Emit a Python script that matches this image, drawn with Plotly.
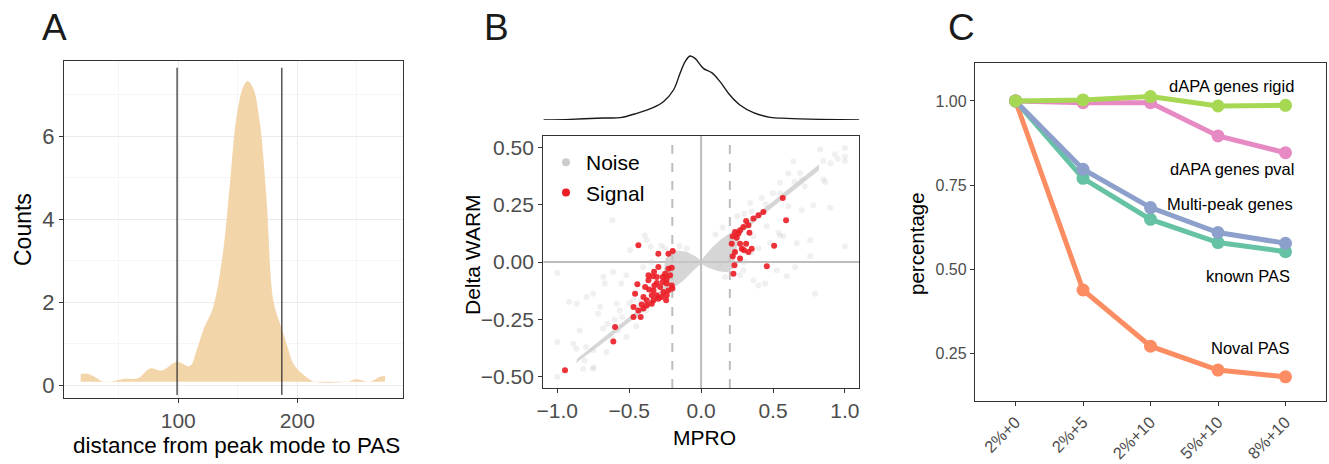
import plotly.graph_objects as go

W, H = 1329, 464
FONT = "Liberation Sans, Arial, Helvetica, sans-serif"

# ---------------- Panel A data ----------------
dist_x = [18, 23, 28.6, 37, 42.6, 53.8, 66.4, 76.2, 86, 98.6, 109.8, 115.4, 121, 129.4,
          137.8, 143.4, 149, 154.6, 158.3, 163, 168.6, 174.2, 179.8, 185.4, 191, 196.6,
          202.2, 209.2, 214.8, 241.5, 249.9, 261, 269.5, 273.7]
dist_counts = [0.27, 0.28, 0.22, 0.08, 0.08, 0.15, 0.17, 0.40, 0.35, 0.56, 0.46, 0.84, 1.33,
               1.89, 3.25, 4.86, 6.47, 7.19, 7.33, 7.15, 6.31, 4.46, 2.05, 1.49, 1.0, 0.52,
               0.32, 0.16, 0.08, 0.08, 0.14, 0.08, 0.20, 0.22]
dist_base = 0.08
cutoffs = [99, 187]

# ---------------- Panel B data ----------------
marg_x = [-1.096, -0.911, -0.68, -0.563, -0.447, -0.33, -0.262, -0.192, -0.146, -0.111,
          -0.077, -0.042, 0.016, 0.074, 0.132, 0.2, 0.27, 0.364, 0.48, 0.596, 0.83, 1.1]
marg_density = [0.0, 0.02, 0.06, 0.07, 0.20, 0.38, 0.55, 0.90, 1.40, 1.75, 1.92, 1.85, 1.55,
                1.42, 1.15, 0.75, 0.45, 0.22, 0.08, 0.05, 0.02, 0.0]

core_x = [0.82, 0.60, 0.40, 0.28, 0.20, 0.14, 0.08, 0.03, 0.0, -0.04, -0.10, -0.17, -0.22,
          -0.25, -0.26, -0.28, -0.32, -0.50, -0.70, -0.86, -0.87, -0.70, -0.50, -0.30, -0.20,
          -0.12, -0.05, 0.0, 0.05, 0.12, 0.18, 0.22, 0.24, 0.26, 0.30, 0.40, 0.60, 0.82, 0.82]
core_y = [0.425, 0.315, 0.215, 0.155, 0.125, 0.10, 0.065, 0.03, 0.008, 0.025, 0.045, 0.05,
          0.04, 0.01, -0.05, -0.12, -0.15, -0.24, -0.34, -0.42, -0.44, -0.362, -0.262, -0.165,
          -0.12, -0.08, -0.035, -0.008, -0.025, -0.04, -0.045, -0.03, 0.03, 0.11, 0.135, 0.19,
          0.29, 0.40, 0.425]

noise_x = [-0.617, -0.392, -0.276, -0.35, 0.828, 1.0, 1.0, 1.0, 0.642, 0.688, 0.851, 0.549,
           0.607, 0.897, 0.457, 0.538, 0.665, 1.0, 0.758, 0.341, 0.422, 0.364, 0.48, 0.572,
           -1.0, -0.612, -0.519, -0.67, -0.554, -0.918, -0.751, -0.844, -1.0, -0.681, -0.867,
           -0.809, -1.0, -0.82, -0.751, -0.659, -0.519, -0.565, -0.473, -0.716, -0.403, -0.346,
           0.132, 0.294, 0.364, 0.399, 0.445, 0.526, 0.596, 0.654, 0.793, 0.271, 0.167,
           -0.494, -0.378, 0.758, 0.862, 0.607, 0.781, 0.7, 0.549, -0.679, -0.795, -0.864,
           -0.702, -0.586, -0.749, -0.888, -0.749,
           -0.45, -0.42, -0.38, -0.33, -0.30, -0.28, -0.25, -0.15, -0.10, 0.10, 0.15, 0.25,
           0.30, 0.35, 0.45, 0.50, 0.55, 0.65, 0.70, 0.72, 0.30, 0.35, 0.40, -0.60, -0.62,
           -0.55, -0.50, -0.45, -0.65, -0.80, -0.58, 0.93, 0.95, 0.90, 0.85]
noise_y = [0.182, 0.115, 0.071, 0.068, 0.49, 0.497, 0.46, 0.44, 0.439, 0.388, 0.359, 0.345,
           0.243, 0.236, 0.156, 0.127, 0.083, 0.068, 0.025, 0.257, 0.279, 0.112, 0.083, 0.112,
           -0.048, -0.044, -0.058, -0.094, -0.094, -0.174, -0.138, -0.298, -0.349, -0.29, -0.378,
           -0.429, -0.5, -0.465, -0.465, -0.392, -0.327, -0.211, -0.167, -0.225, -0.022, 0.0,
           -0.022, -0.036, -0.08, -0.102, -0.094, -0.036, -0.062, -0.022, -0.138, -0.058, -0.065,
           0.051, 0.095, 0.095, 0.349, 0.386, 0.247, 0.225, 0.116, -0.065, -0.153, -0.181,
           -0.196, -0.181, -0.385, -0.356, -0.46,
           -0.20, -0.17, -0.21, -0.12, -0.09, -0.05, 0.06, 0.07, 0.06, 0.12, 0.15, 0.20,
           0.21, 0.22, 0.25, 0.30, 0.30, 0.35, 0.36, 0.33, 0.0, 0.04, 0.06, -0.25, -0.33,
           -0.24, -0.18, -0.28, -0.27, -0.37, -0.30, 0.47, 0.45, 0.43, 0.44]

signal_x = [-0.436, -0.297, -0.227, -0.197, -0.297, -0.327, -0.336, -0.308, -0.227, -0.204,
            -0.25, -0.216, -0.443, -0.366, -0.267, -0.308, -0.239, -0.204, -0.362, -0.331,
            -0.285, -0.262, -0.227, -0.199, -0.459, -0.401, -0.343, -0.308, -0.274, -0.239,
            -0.378, -0.331, -0.297, -0.413, -0.378, -0.343, -0.47, -0.436, -0.401, -0.47,
            -0.42, -0.598, -0.61, -0.946, -0.366, -0.267, -0.239, -0.389, -0.243, -0.325,
            0.568, 0.433, 0.399, 0.364, 0.313, 0.329, 0.294, 0.271, 0.236, 0.26, 0.22, 0.248,
            0.213, 0.271, 0.313, 0.283, 0.336, 0.299, 0.352, 0.329, 0.508, 0.591, 0.22, 0.271,
            0.232, 0.225, 0.457, 0.236]
signal_y = [0.073, 0.036, 0.036, 0.048, -0.022, -0.043, -0.062, -0.065, -0.029, -0.025,
            -0.051, -0.058, -0.097, -0.08, -0.087, -0.091, -0.094, -0.102, -0.12, -0.124,
            -0.109, -0.131, -0.124, -0.116, -0.138, -0.153, -0.145, -0.145, -0.153, -0.145,
            -0.167, -0.167, -0.16, -0.185, -0.189, -0.182, -0.196, -0.211, -0.203, -0.24,
            -0.24, -0.283, -0.346, -0.472, -0.058, -0.065, -0.073, -0.109, -0.167, -0.102,
            0.279, 0.218, 0.204, 0.189, 0.179, 0.16, 0.153, 0.138, 0.131, 0.124, 0.112, 0.106,
            0.08, 0.08, 0.08, 0.058, 0.127, 0.051, 0.058, 0.044, 0.071, 0.182, 0.025, 0.015,
            -0.014, -0.051, -0.019, 0.044]
zero_lines = [0]
thresholds = [-0.2, 0.2]

# ---------------- Panel C data ----------------
conditions = ["2%+0", "2%+5", "2%+10", "5%+10", "8%+10"]
series_names = ["Noval PAS", "known PAS", "Multi-peak genes", "dAPA genes pval", "dAPA genes rigid"]
series_values = {
    "Noval PAS":        [1.0, 0.438, 0.271, 0.200, 0.180],
    "known PAS":        [1.0, 0.770, 0.648, 0.579, 0.552],
    "Multi-peak genes": [1.0, 0.797, 0.683, 0.609, 0.577],
    "dAPA genes pval":  [1.0, 0.995, 0.995, 0.896, 0.846],
    "dAPA genes rigid": [1.0, 1.003, 1.013, 0.985, 0.987],
}
series_colors = {
    "Noval PAS": "#fc8d62", "known PAS": "#66c2a5", "Multi-peak genes": "#8da0cb",
    "dAPA genes pval": "#e78ac3", "dAPA genes rigid": "#a6d854",
}
label_x = {"dAPA genes rigid": 4.15, "dAPA genes pval": 4.15, "Multi-peak genes": 4.14,
           "known PAS": 4.1, "Noval PAS": 4.1}
label_y = {"dAPA genes rigid": 1.045, "dAPA genes pval": 0.797, "Multi-peak genes": 0.694,
           "known PAS": 0.48, "Noval PAS": 0.267}

# ---------------- helpers ----------------
def px_x(p):
    return p / W

def px_y(p):
    return 1 - p / H

fig = go.Figure()

# Panel A
fig.add_trace(go.Scatter(x=dist_x, y=[dist_base] * len(dist_x), mode="lines",
                         line=dict(width=0), showlegend=False, hoverinfo="skip",
                         xaxis="x", yaxis="y"))
fig.add_trace(go.Scatter(x=dist_x, y=dist_counts, mode="lines", line=dict(width=0, shape="spline"),
                         fill="tonexty", fillcolor="#f3d5aa", showlegend=False,
                         xaxis="x", yaxis="y"))

# Panel B marginal
fig.add_trace(go.Scatter(x=marg_x, y=marg_density, mode="lines",
                         line=dict(color="#1a1a1a", width=1.4, shape="spline"),
                         showlegend=False, xaxis="x3", yaxis="y3"))
# Panel B scatter
fig.add_trace(go.Scatter(x=core_x, y=core_y, mode="lines", fill="toself",
                         fillcolor="rgba(200,200,200,0.75)", line=dict(width=0),
                         showlegend=False, hoverinfo="skip", xaxis="x2", yaxis="y2"))
fig.add_trace(go.Scatter(x=noise_x, y=noise_y, mode="markers",
                         marker=dict(size=6, color="rgba(205,205,205,0.3)"),
                         showlegend=False, xaxis="x2", yaxis="y2"))
fig.add_trace(go.Scatter(x=signal_x, y=signal_y, mode="markers",
                         marker=dict(size=6, color="rgba(236,28,36,0.9)"),
                         showlegend=False, xaxis="x2", yaxis="y2"))
fig.add_trace(go.Scatter(x=[None], y=[None], mode="markers", name="Noise",
                         marker=dict(size=8, color="#cccccc"), xaxis="x2", yaxis="y2"))
fig.add_trace(go.Scatter(x=[None], y=[None], mode="markers", name="Signal",
                         marker=dict(size=8, color="#ec1c24"), xaxis="x2", yaxis="y2"))

# Panel C
for name in series_names:
    fig.add_trace(go.Scatter(x=conditions, y=series_values[name], mode="lines+markers",
                             line=dict(color=series_colors[name], width=5),
                             marker=dict(color=series_colors[name], size=13),
                             showlegend=False, name=name, xaxis="x4", yaxis="y4"))

axis_common = dict(showline=True, mirror=True, linecolor="#333333", linewidth=1.3,
                   ticks="outside", ticklen=4, tickcolor="#333333", tickwidth=1,
                   zeroline=False, automargin=False)

shapes = []
for c in cutoffs:
    shapes.append(dict(type="line", xref="x", yref="y", x0=c, x1=c, y0=-0.24, y1=7.65,
                       line=dict(color="#2b2b2b", width=1.2)))
for z in zero_lines:
    shapes.append(dict(type="line", xref="x2", yref="y2 domain", x0=z, x1=z, y0=0, y1=1,
                       line=dict(color="#bdbdbd", width=2), layer="below"))
    shapes.append(dict(type="line", xref="x2 domain", yref="y2", x0=0, x1=1, y0=z, y1=z,
                       line=dict(color="#bdbdbd", width=2), layer="below"))
for t in thresholds:
    shapes.append(dict(type="line", xref="x2", yref="y2 domain", x0=t, x1=t, y0=0, y1=1,
                       line=dict(color="#bdbdbd", width=2, dash="dash"), layer="below"))

annotations = []
for letter, lx in zip(["A", "B", "C"], [40, 482, 946]):
    annotations.append(dict(text=letter, xref="paper", yref="paper", x=px_x(lx), y=px_y(27),
                            xanchor="left", yanchor="middle", showarrow=False,
                            font=dict(size=37, color="#1a1a1a", family=FONT)))
# axis titles
annotations += [
    dict(text="distance from peak mode to PAS", xref="paper", yref="paper",
         x=px_x(236), y=px_y(445), xanchor="center", yanchor="middle", showarrow=False,
         font=dict(size=22.5, color="black", family=FONT)),
    dict(text="Counts", xref="paper", yref="paper", x=px_x(23), y=px_y(230),
         xanchor="center", yanchor="middle", textangle=-90, showarrow=False,
         font=dict(size=23, color="black", family=FONT)),
    dict(text="MPRO", xref="paper", yref="paper", x=px_x(704), y=px_y(437),
         xanchor="center", yanchor="middle", showarrow=False,
         font=dict(size=21, color="black", family=FONT)),
    dict(text="Delta WARM", xref="paper", yref="paper", x=px_x(473), y=px_y(255),
         xanchor="center", yanchor="middle", textangle=-90, showarrow=False,
         font=dict(size=21, color="black", family=FONT)),
    dict(text="percentage", xref="paper", yref="paper", x=px_x(917), y=px_y(243),
         xanchor="center", yanchor="middle", textangle=-90, showarrow=False,
         font=dict(size=20.5, color="black", family=FONT)),
]
for name in series_names:
    annotations.append(dict(text=name, xref="x4", yref="y4", x=label_x[name], y=label_y[name],
                            xanchor="right", yanchor="middle", showarrow=False,
                            font=dict(size=16.5, color="black", family=FONT)))

fig.update_layout(
    width=W, height=H, margin=dict(l=0, r=0, t=0, b=0, pad=0), autosize=False,
    paper_bgcolor="white", plot_bgcolor="white",
    font=dict(family=FONT, color="#4d4d4d"),
    showlegend=True,
    legend=dict(x=px_x(546), y=px_y(142), xanchor="left", yanchor="top",
                traceorder="normal",
                bgcolor="rgba(0,0,0,0)", font=dict(size=21, color="black", family=FONT),
                tracegroupgap=0, itemwidth=30),
    xaxis=dict(domain=[px_x(64), px_x(403)], range=[4, 288.8], anchor="y",
               tick0=0, dtick=100, showgrid=True, gridcolor="#ebebeb", gridwidth=0.8,
               minor=dict(dtick=50, tick0=0, showgrid=True, gridcolor="#f5f5f5", gridwidth=0.6),
               tickfont=dict(size=21, color="#4d4d4d"), **axis_common),
    yaxis=dict(domain=[px_y(398), px_y(61)], range=[-0.31, 7.81], anchor="x",
               tick0=0, dtick=2, showgrid=True, gridcolor="#ebebeb", gridwidth=0.8,
               minor=dict(dtick=1, tick0=0, showgrid=True, gridcolor="#f5f5f5", gridwidth=0.6),
               tickfont=dict(size=22, color="#4d4d4d"), **axis_common),
    xaxis2=dict(domain=[px_x(543.3), px_x(859.3)], range=[-1.097, 1.1], anchor="y2",
                dtick=0.5, tick0=0, tickformat=".1f", showgrid=False,
                tickfont=dict(size=21, color="#4d4d4d"), **axis_common),
    yaxis2=dict(domain=[px_y(388), px_y(136)], range=[-0.549, 0.549], anchor="x2",
                dtick=0.25, tick0=0, tickformat=".2f", showgrid=False,
                tickfont=dict(size=21, color="#4d4d4d"), **axis_common),
    xaxis3=dict(domain=[px_x(543.3), px_x(859.3)], range=[-1.097, 1.1], anchor="y3",
                visible=False, showgrid=False, zeroline=False),
    yaxis3=dict(domain=[px_y(120), px_y(54)], range=[0, 1.98], anchor="x3",
                visible=False, showgrid=False, zeroline=False),
    xaxis4=dict(domain=[px_x(975), px_x(1326)], range=[-0.6, 4.6], anchor="y4",
                type="category", tickangle=-45, showgrid=False,
                tickfont=dict(size=16.5, color="#4d4d4d"), **axis_common),
    yaxis4=dict(domain=[px_y(401), px_y(63.3)], range=[0.108, 1.112], anchor="x4",
                tickvals=[0.25, 0.5, 0.75, 1.0], tickformat=".2f", showgrid=False,
                tickfont=dict(size=16, color="#4d4d4d"), **axis_common),
    shapes=shapes,
    annotations=annotations,
)

fig.write_html("out.html", config={"displayModeBar": False},
               post_script="document.body.style.margin='0px';document.body.style.overflow='hidden';")
